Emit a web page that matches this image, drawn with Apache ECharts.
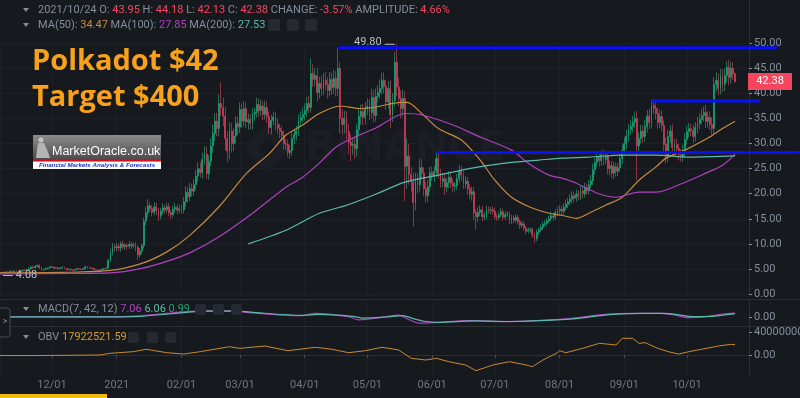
<!DOCTYPE html>
<html>
<head>
<meta charset="utf-8">
<script src="https://cdn.jsdelivr.net/npm/echarts@6/dist/echarts.min.js"></script>
<style>
  html, body { margin: 0; padding: 0; background: #161a1e; }
  #main { width: 800px; height: 398px; }
</style>
</head>
<body>
<div id="main"></div>
<script>
// DOT/USDT daily, 2020-11-06 .. 2021-10-24
const firstDay = [2020, 10, 6];
const firstOpen = 4.20;

const closes = [
  // Nov (from 6th)
  4.22,4.18,4.35,4.40,4.38,4.55,4.48,4.60,4.46,4.43, 4.58,4.76,4.68,4.84,5.02,5.38,5.22,5.52,5.72,5.30, 4.82,4.92,5.08,5.18,5.42,
  // Dec
  5.35,5.15,5.25,5.05,5.20,5.30,5.10,4.85,4.95,4.80, 4.75,4.90,5.05,4.95,4.90,5.05,5.40,5.25,5.20,5.10, 4.85,4.80,4.55,4.75,4.95,5.05,5.15,6.70,8.30,9.40, 9.20,
  // Jan
  9.50,9.20,10.00,9.40,9.70,9.50,9.90,9.60,9.90,9.30, 7.80,8.60,9.60,14.50,16.20,17.60,17.00,16.30,17.40,16.60, 15.60,16.50,17.20,16.80,17.40,16.20,15.80,16.90,17.30,16.70, 17.00,
  // Feb
  16.8,18.4,20.3,19.4,21.0,20.5,21.8,23.5,25.0,24.2, 26.8,27.9,24.0,26.5,29.5,32.0,34.5,33.0,38.0,37.2, 35.5,31.0,28.5,32.5,30.0,31.5,34.0,33.3,
  // Mar
  36.8,34.5,37.0,34.3,34.8,34.0,35.9,36.2,37.8,36.6, 37.5,35.8,37.2,35.4,33.2,34.6,35.3,33.8,33.0,32.4, 31.6,30.0,29.8,28.2,28.6,31.0,31.8,32.5,34.6,35.2, 35.8,
  // Apr
  36.6,38.0,37.2,44.0,42.8,43.6,40.2,42.0,41.0,42.6, 41.8,40.6,42.8,41.2,43.0,41.0,45.0,35.0,33.8,35.0, 32.4,30.2,29.6,29.8,29.0,32.8,35.4,36.4,35.2,37.0,
  // May
  37.4,36.2,39.2,35.6,39.4,40.2,41.0,42.6,41.4,38.3, 41.0,35.8,38.6,46.2,41.3,39.0,37.0,39.0,25.5,27.5, 23.8,22.4,18.2,22.6,21.8,25.2,24.1,21.0,19.6,21.4, 24.2,
  // Jun
  23.5,24.5,27.0,24.0,22.5,23.0,21.3,22.2,23.3,22.1, 21.5,21.6,23.0,24.5,23.7,22.0,22.5,21.0,19.9,20.4, 16.2,15.4,16.3,16.8,15.4,15.7,16.8,16.7,16.8,16.5,
  // Jul
  15.4,15.3,15.8,16.4,15.3,15.8,15.9,14.6,15.2,14.7, 15.3,14.4,13.7,14.0,13.2,12.5,12.8,12.9,11.8,11.0, 12.3,12.8,13.3,13.9,14.1,14.6,15.0,15.6,15.3,16.2, 16.6,
  // Aug
  16.9,16.5,17.3,17.9,18.4,18.9,19.6,19.1,19.9,19.5, 20.6,20.0,21.2,20.6,21.8,22.6,24.8,26.2,27.4,26.6, 27.8,26.8,27.4,25.0,25.6,24.1,25.4,24.5,25.2,27.0, 28.6,
  // Sep
  30.0,31.5,32.8,33.4,34.2,35.0,29.5,31.0,32.5,31.4, 33.4,35.5,34.2,37.6,37.0,36.0,34.2,35.4,33.6,29.8, 27.6,31.4,32.5,29.2,29.8,29.0,27.8,27.4,28.6,30.8,
  // Oct
  32.4,33.0,32.6,31.4,33.2,34.0,34.8,35.6,36.2,34.4, 35.2,33.8,33.0,41.8,42.6,41.0,43.4,41.8,43.6,45.2, 43.2,45.0,43.95,42.38
];

// wick length above the body / below the body
const upperWick = [
  .10,.12,.08,.10,.15,.12,.10,.14,.10,.12, .20,.15,.18,.20,.30,.22,.25,.20,.15,.20, .18,.15,.20,.15,.12,
  .15,.12,.15,.12,.18,.20,.12,.10,.15,.10, .12,.15,.18,.12,.10,.20,.25,.15,.12,.10, .10,.12,.10,.15,.18,.15,.20,.35,.70,.80, .60,
  .70,.60,.50,.60,.40,.50,.60,.50,.40,.50, .40,.60,.50,.80,1.2,1.4,.80,.70,.90,.80, .60,.70,.90,.60,.80,.70,.60,.70,.80,.60, .70,
  .8,1.0,1.2,1.0,1.2,1.0,1.1,1.2,1.3,1.2, 1.4,1.6,1.5,1.2,1.6,1.8,1.5,1.6,1.8,4.2, 2.0,1.8,1.5,1.8,1.6,1.5,1.4,1.5,
  1.4,1.2,1.5,1.3,1.2,1.0,1.2,1.0,1.4,1.2, 1.3,1.0,1.4,1.2,1.0,1.2,1.1,1.0,1.2,1.0, 1.1,1.0,.9,1.0,1.2,1.2,1.0,1.1,1.3,1.2, 1.4,
  1.4,1.3,1.5,3.0,1.8,1.5,1.6,1.4,1.6,1.5, 1.6,1.4,1.5,1.4,1.8,1.5,4.0,1.2,1.8,1.6, 1.4,1.5,1.6,1.4,1.5,1.2,1.6,1.4,1.5,1.3,
  1.6,1.4,1.8,1.5,1.6,1.4,1.8,1.5,1.6,1.4, 1.5,1.6,1.5,2.0,3.6,1.8,1.6,1.8,1.5,3.5, 2.5,1.5,1.8,1.6,1.5,1.8,1.6,1.2,1.3,1.4, 1.2,
  1.2,1.0,1.2,1.5,1.0,1.1,.9,1.0,1.2,1.0, .9,.8,1.0,1.3,1.0,.9,1.0,.8,.9,1.0, .9,.8,1.0,.9,.8,.7,.8,.7,.6,.7,
  .7,.6,.7,.8,.6,.7,.6,.5,.6,.5, .6,.5,.5,.6,.5,.4,.5,.4,.4,.5, .6,.5,.6,.5,.6,.5,.6,.8,.6,.7, .8,
  .8,.7,.8,.9,.8,1.0,.9,.8,.9,.8, 1.0,.9,1.0,.8,1.0,1.2,1.2,1.0,1.1,1.0, .9,1.0,1.1,.9,1.0,.9,1.0,.8,.9,1.0, 1.2,
  1.2,1.3,1.1,1.2,1.3,1.2,1.5,1.2,1.3,1.2, 1.3,1.2,1.4,1.1,1.2,1.3,1.2,1.4,1.2,1.0, 1.5,1.4,1.2,1.3,1.1,1.2,1.0,1.1,1.2,1.3,
  1.2,1.1,1.0,1.2,1.1,1.3,1.2,1.4,1.2,1.5, 1.3,1.2,1.4,1.5,1.6,1.4,1.5,1.3,1.4,1.2, 1.5,1.3,1.2,.23
];
const lowerWick = [
  .06,.10,.10,.12,.10,.15,.12,.10,.12,.10, .12,.15,.12,.15,.20,.18,.20,.15,.25,.30, .15,.15,.12,.15,.12,
  .15,.15,.12,.18,.12,.15,.15,.15,.10,.12, .15,.10,.12,.12,.15,.10,.15,.15,.12,.15, .15,.10,.15,.10,.12,.12,.15,.10,.30,.60, .80,
  .60,.70,.80,.50,.60,.70,.50,.60,.50,.80, 1.0,.60,.70,.50,.80,.90,.70,.80,.60,.90, 1.0,.70,.60,.80,.60,.70,.90,.60,.70,.80, .60,
  .7,.8,1.0,1.1,.9,1.0,.9,1.0,1.2,1.0, 1.2,1.0,1.0,1.2,1.0,1.4,1.5,1.6,1.5,1.8, 2.0,2.4,2.2,1.6,1.8,1.5,1.4,1.6,
  1.2,1.4,1.1,1.3,1.5,1.2,1.2,1.4,1.0,1.3, 1.1,1.2,1.0,1.3,1.2,1.4,1.0,1.2,1.1,1.3, 1.0,1.2,1.1,.9,1.2,1.0,1.1,1.2,1.0,1.2, 1.0,
  1.2,1.3,1.1,1.0,1.5,1.4,1.8,1.2,1.5,1.3, 1.2,1.6,1.2,1.5,1.3,1.6,1.5,3.0,2.0,1.8, 1.6,2.2,3.1,1.8,2.0,1.5,1.4,1.6,1.5,1.4,
  1.3,1.5,1.2,1.4,1.2,1.1,1.3,1.2,1.4,1.6, 1.3,2.8,1.5,1.2,1.8,1.6,2.0,1.6,7.0,4.5, 2.0,2.0,4.8,1.5,1.6,1.4,1.2,1.5,1.4,1.2, 1.0,
  1.0,1.2,1.1,1.0,1.3,1.2,1.5,1.0,1.1,1.0, 1.2,1.0,.9,.8,1.1,1.0,.9,1.2,1.0,1.3, 1.5,2.6,1.0,.8,.9,.7,.8,.7,.8,.7,
  .6,.7,.6,.5,.7,.6,.5,.7,.6,.6, .5,.6,.7,.5,.6,.6,.4,.5,.6,.8, .5,.6,.5,.6,.5,.6,.5,.6,.7,.5, .6,
  .7,.8,.7,.6,.8,.7,.8,.9,.7,.8, .7,.9,.8,.9,.7,.8,.9,1.0,.9,1.2, 1.0,1.1,1.0,1.2,1.3,1.0,1.2,1.1,1.0,.9, 1.0,
  1.0,1.2,1.1,1.0,1.2,1.1,6.8,1.2,1.0,1.3, 1.1,1.2,1.3,1.2,1.1,1.2,1.3,1.1,1.2,1.4, 1.6,1.3,1.2,1.4,1.2,1.1,1.2,1.0,1.1,1.2,
  1.0,1.2,1.1,1.3,1.0,1.2,1.1,1.0,1.2,1.3, 1.2,1.1,1.2,1.0,1.4,1.3,1.2,1.5,1.3,1.4, 1.6,1.2,1.3,.25
];

// moving averages as drawn on the chart
const ma50 = [
  ['2020-11-06',4.2],['2020-12-05',4.3],['2020-12-29',4.7],['2021-01-13',6.1],['2021-01-25',8.4],
  ['2021-02-05',11.7],['2021-02-19',17.4],['2021-03-04',24.0],['2021-03-15',28.0],['2021-03-23',31.7],
  ['2021-03-31',33.7],['2021-04-08',36.0],['2021-04-18',37.5],['2021-04-27',37.0],['2021-05-05',37.3],
  ['2021-05-17',38.2],['2021-05-20',38.2],['2021-05-27',36.0],['2021-06-04',33.0],['2021-06-15',30.7],
  ['2021-06-24',26.7],['2021-07-01',22.7],['2021-07-09',19.3],['2021-07-18',17.3],['2021-07-27',16.1],
  ['2021-08-02',15.7],['2021-08-09',15.1],['2021-08-15',16.1],['2021-08-23',17.7],['2021-08-31',19.3],
  ['2021-09-08',22.7],['2021-09-16',25.3],['2021-09-21',27.1],['2021-09-30',28.7],['2021-10-11',31.1],
  ['2021-10-18',33.0],['2021-10-24',34.47]
];
const ma100 = [
  ['2020-11-06',4.0],['2020-12-10',4.1],['2020-12-29',4.2],['2021-01-13',5.1],['2021-01-25',6.5],
  ['2021-02-05',8.2],['2021-02-19',11.4],['2021-03-07',16.1],['2021-03-23',21.3],['2021-03-31',23.3],
  ['2021-04-08',26.1],['2021-04-16',29.3],['2021-04-24',31.1],['2021-05-05',33.1],['2021-05-19',36.0],
  ['2021-05-27',35.7],['2021-06-11',33.7],['2021-06-24',31.3],['2021-07-09',28.7],['2021-07-17',26.1],
  ['2021-07-27',23.7],['2021-08-02',23.1],['2021-08-09',22.1],['2021-08-19',20.1],['2021-08-28',19.3],
  ['2021-09-08',20.3],['2021-09-16',20.3],['2021-09-29',22.1],['2021-10-10',24.1],['2021-10-18',25.7],
  ['2021-10-24',27.85]
];
const ma200 = [
  ['2021-03-05',10.0],['2021-03-23',12.7],['2021-04-08',16.1],['2021-04-21',17.7],['2021-05-05',19.9],
  ['2021-05-19',22.3],['2021-06-04',23.7],['2021-06-20',25.1],['2021-07-06',26.1],['2021-07-22',26.7],
  ['2021-08-02',27.1],['2021-08-15',27.3],['2021-08-31',27.7],['2021-09-16',27.7],['2021-10-02',27.3],
  ['2021-10-24',27.53]
];

// MACD(7,42,12) lines
const macdDif = [
  ['2020-11-06',0.3],['2020-12-29',0.3],['2021-01-10',1.5],['2021-01-25',6.5],['2021-02-10',11],
  ['2021-02-26',11],['2021-03-04',8.2],['2021-03-30',2.3],['2021-04-06',6.5],['2021-04-22',0.5],
  ['2021-04-27',-5],['2021-05-08',-0.5],['2021-05-16',3.5],['2021-05-21',-5],['2021-05-26',-11],
  ['2021-06-02',-10],['2021-06-19',-6.5],['2021-07-05',-8.2],['2021-07-21',-6.5],['2021-08-07',-2.3],
  ['2021-08-23',4.7],['2021-09-08',6.5],['2021-09-18',6.5],['2021-09-25',3.5],['2021-10-02',-1.2],
  ['2021-10-10',0.5],['2021-10-18',5.3],['2021-10-24',7.06]
];
const macdDea = [
  ['2020-11-06',0.2],['2020-12-29',0.2],['2021-01-12',1.0],['2021-01-27',5.8],['2021-02-12',10.5],
  ['2021-02-28',10.6],['2021-03-06',8.6],['2021-03-31',3.0],['2021-04-08',4.5],['2021-04-24',1.2],
  ['2021-04-29',-2],['2021-05-10',0],['2021-05-18',2.5],['2021-05-23',-3],['2021-05-28',-7.5],
  ['2021-06-04',-9.5],['2021-06-21',-6.8],['2021-07-07',-8],['2021-07-23',-6.5],['2021-08-09',-2.8],
  ['2021-08-25',4.2],['2021-09-10',6.3],['2021-09-20',6.3],['2021-09-27',3.8],['2021-10-04',0.5],
  ['2021-10-12',1.0],['2021-10-19',3.8],['2021-10-24',6.06]
];
const macdHist = 0.99;

// OBV, millions
const obvM = [
  ['2020-11-06',-1],['2020-11-22',-1],['2020-12-24',0],['2020-12-29',3],['2021-01-09',5.8],
  ['2021-01-15',10],['2021-01-25',4],['2021-02-02',1.7],['2021-02-10',5.8],['2021-02-24',14.4],
  ['2021-03-01',11.6],['2021-03-13',15.6],['2021-03-24',7.5],['2021-04-06',13.4],['2021-04-14',10],
  ['2021-04-22',4],['2021-04-30',7.5],['2021-05-08',13.4],['2021-05-16',8.7],['2021-05-22',-5.8],
  ['2021-05-29',-8.7],['2021-06-03',-5.8],['2021-06-09',-11.6],['2021-06-17',-17.4],['2021-06-22',-27.3],
  ['2021-06-30',-17.4],['2021-07-08',-11.6],['2021-07-16',-17.4],['2021-07-19',-20.3],['2021-07-24',-8.7],
  ['2021-07-31',4],['2021-08-01',7.5],['2021-08-04',4],['2021-08-12',11.6],['2021-08-20',20.3],
  ['2021-08-28',17.4],['2021-08-31',29],['2021-09-05',29],['2021-09-08',20.3],['2021-09-11',21.4],
  ['2021-09-17',11.6],['2021-09-22',5.8],['2021-09-27',1.7],['2021-10-02',5.8],['2021-10-08',10],
  ['2021-10-13',13.4],['2021-10-16',15.6],['2021-10-22',18.6],['2021-10-24',17.92252159]
];

// hand-drawn resistance lines
const levels = [
  { from: '2021-04-17', to: '2021-11-13', value: 49.1 },
  { from: '2021-09-14', to: '2021-11-05', value: 38.5 },
  { from: '2021-06-03', to: '2021-11-24', value: 28.2 }
];

const BG = '#161a1e', GRAY = '#848e9c', RED = '#f6465d';
const UP = '#1bb17c', DOWN = '#e0435f';
const C50 = '#c68a3e', C100 = '#b040c2', C200 = '#5cb8ad', COBV = '#c98a32';

const t = s => { const [y, m, d] = s.split('-').map(Number); return new Date(y, m - 1, d).getTime(); };
const pts = arr => arr.map(p => [t(p[0]), p[1]]);

const candles = [];
let prev = firstOpen;
closes.forEach((c, i) => {
  const day = new Date(firstDay[0], firstDay[1], firstDay[2] + i).getTime();
  const o = prev;
  candles.push([day, o, c, Math.min(o, c) - lowerWick[i], Math.max(o, c) + upperWick[i]]);
  prev = c;
});

const xMin = new Date(2020, 10, 6, 3).getTime();
const xMax = new Date(2021, 9, 30, 16).getTime();
const DAY = 86400000;
const pad = n => (n < 10 ? '0' : '') + n;
const fmtDate = v => {
  const d = new Date(v);
  return (d.getMonth() === 0 && d.getDate() === 1) ? String(d.getFullYear()) : pad(d.getMonth() + 1) + '/' + pad(d.getDate());
};

const xAxis = (gi, show) => ({
  type: 'time', gridIndex: gi, min: xMin, max: xMax,
  splitNumber: 12, minInterval: 28 * DAY, maxInterval: 31 * DAY,
  axisLine: { show: show, lineStyle: { color: '#2b2f36' } },
  axisTick: { show: show, length: 3, lineStyle: { color: '#474d57' } },
  axisLabel: { show: show, color: '#6f7785', fontSize: 11, fontFamily: 'Roboto', margin: 5, formatter: fmtDate },
  splitLine: { show: true, lineStyle: { color: '#1d2127' } }
});
const yBase = {
  type: 'value', position: 'right', scale: false,
  axisLine: { show: true, lineStyle: { color: '#2b2f36' } },
  axisTick: { show: true, length: 3, lineStyle: { color: GRAY } },
  splitLine: { show: false }
};

const chart = echarts.init(document.getElementById('main'));
const option = {
  backgroundColor: BG,
  animation: false,
  grid: [
    { left: 0, right: 51, top: 43.3, height: 250.7, outerBoundsMode: 'none' },
    { left: 0, right: 51, top: 299, height: 27, outerBoundsMode: 'none' },
    { left: 0, right: 51, top: 326, height: 49, outerBoundsMode: 'none' }
  ],
  xAxis: [xAxis(0, false), xAxis(1, false), xAxis(2, true)],
  yAxis: [
    Object.assign({}, yBase, {
      gridIndex: 0, min: 0, max: 50, interval: 5,
      axisLabel: { color: GRAY, fontSize: 11, fontFamily: 'Roboto', margin: 5, formatter: v => v.toFixed(2) },
      splitLine: { show: true, lineStyle: { color: '#1d2127' } }
    }),
    Object.assign({}, yBase, {
      gridIndex: 1, min: -16, max: 32,
      axisTick: { show: true, length: 3, customValues: [0], lineStyle: { color: GRAY } },
      axisLabel: { customValues: [0], color: GRAY, fontSize: 11, fontFamily: 'Roboto', margin: 5, formatter: v => v.toFixed(2) }
    }),
    Object.assign({}, yBase, {
      gridIndex: 2, min: -34782609, max: 50434783,
      axisTick: { show: true, length: 3, customValues: [0, 40000000], lineStyle: { color: GRAY } },
      axisLabel: { customValues: [0, 40000000], color: GRAY, fontSize: 11, fontFamily: 'Roboto', margin: 5,
        formatter: v => (v === 0 ? '0.00' : String(v)) }
    })
  ],
  series: [
    {
      type: 'candlestick', xAxisIndex: 0, yAxisIndex: 0, data: candles, barWidth: 1.4,
      itemStyle: { color: UP, color0: DOWN, borderColor: UP, borderColor0: DOWN, borderColorDoji: UP, borderWidth: 0.6 }
    },
    { type: 'line', xAxisIndex: 0, yAxisIndex: 0, data: pts(ma50), smooth: 0.3, showSymbol: false, lineStyle: { color: C50, width: 1.2 } },
    { type: 'line', xAxisIndex: 0, yAxisIndex: 0, data: pts(ma100), smooth: 0.3, showSymbol: false, lineStyle: { color: C100, width: 1.2 } },
    { type: 'line', xAxisIndex: 0, yAxisIndex: 0, data: pts(ma200), smooth: 0.3, showSymbol: false, lineStyle: { color: C200, width: 1.2 } },
    { type: 'line', xAxisIndex: 1, yAxisIndex: 1, data: pts(macdDif), smooth: 0.3, showSymbol: false, lineStyle: { color: C100, width: 1.2 } },
    { type: 'line', xAxisIndex: 1, yAxisIndex: 1, data: pts(macdDea), smooth: 0.3, showSymbol: false, lineStyle: { color: C200, width: 1.2 } },
    { type: 'line', xAxisIndex: 2, yAxisIndex: 2, data: obvM.map(p => [t(p[0]), p[1] * 1e6]), showSymbol: false, lineStyle: { color: COBV, width: 1 } }
  ]
};
chart.setOption(option);

// ---- overlays ----
const px = (ts, v) => chart.convertToPixel({ xAxisIndex: 0, yAxisIndex: 0 }, [ts, v]);
const last = candles[candles.length - 1];
const lastMA = a => a[a.length - 1][1].toFixed(2);
const f2 = v => v.toFixed(2);
const font = (size, weight, fam) => (weight ? weight + ' ' : '') + size + 'px ' + (fam || 'Roboto');
const tri = (x, y) => ({ type: 'polygon', shape: { points: [[x - 3, y - 2], [x + 3, y - 2], [x, y + 2]] }, style: { fill: GRAY }, z: 20 });
const icons = (xs, y, s) => xs.map(x => ({ type: 'rect', shape: { x: x, y: y, width: s, height: s, r: 2 }, style: { fill: '#252a31' }, z: 20 }));
const hf = font(11);
const txt = (x, y, text, rich) => ({
  type: 'text', x: x, y: y, z: 20,
  style: { text: text, rich: rich, font: hf, fill: GRAY, verticalAlign: 'middle' }
});

const g = [];
// watermark
g.push({ type: 'polygon', shape: { points: [[267, 124], [291, 148], [267, 172], [243, 148]] }, style: { fill: '#1b1f25' }, z: 1 });
g.push({ type: 'polygon', shape: { points: [[267, 138], [277, 148], [267, 158], [257, 148]] }, style: { fill: BG }, z: 1 });
g.push({ type: 'text', x: 305, y: 150, z: 1, style: { text: 'BINANCE', font: font(40, 'bold', 'DejaVu Sans'), fill: '#1b1f25', verticalAlign: 'middle' } });

// header lines
const change = ((last[2] - last[1]) / last[1] * 100).toFixed(2);
const ampl = ((last[4] - last[3]) / last[1] * 100).toFixed(2);
g.push(tri(26, 10));
g.push(txt(38, 10,
  '{g|2021/10/24 O: }{r|' + f2(last[1]) + '}{g| H: }{r|' + f2(last[4]) + '}{g| L: }{r|' + f2(last[3]) +
  '}{g| C: }{r|' + f2(last[2]) + '}{g| CHANGE: }{r|' + change + '%}{g| AMPLITUDE: }{r|' + ampl + '%}',
  { g: { fill: GRAY, font: hf }, r: { fill: RED, font: hf } }));
g.push(tri(26, 25));
g.push(txt(38, 25,
  '{g|MA(50): }{a|' + lastMA(ma50) + '}{g| MA(100): }{b|' + lastMA(ma100) + '}{g| MA(200): }{c|' + lastMA(ma200) + '}',
  { g: { fill: GRAY, font: hf }, a: { fill: C50, font: hf }, b: { fill: C100, font: hf }, c: { fill: C200, font: hf } }));
icons([268, 287, 305], 19, 12).forEach(e => g.push(e));

// MACD / OBV legends
g.push(tri(26, 309));
g.push(txt(38, 309,
  '{g|MACD(7, 42, 12) }{a|' + lastMA(macdDif) + '} {b|' + lastMA(macdDea) + '} {c|' + macdHist.toFixed(2) + '}',
  { g: { fill: GRAY, font: hf }, a: { fill: C100, font: hf }, b: { fill: C200, font: hf }, c: { fill: '#1f9e72', font: hf } }));
icons([195, 213, 231], 304, 11).forEach(e => g.push(e));
g.push(tri(26, 337));
g.push(txt(38, 337, '{g|OBV }{a|' + (obvM[obvM.length - 1][1] * 1e6).toFixed(2) + '}',
  { g: { fill: GRAY, font: hf }, a: { fill: '#d49a3a', font: hf } }));
icons([128, 147, 165], 332, 11).forEach(e => g.push(e));

// pane separators and side handle
[299.5, 326.5].forEach(y => g.push({ type: 'line', shape: { x1: 0, y1: y, x2: 800, y2: y }, style: { stroke: '#2b2f36', lineWidth: 1 }, z: 5 }));
g.push({ type: 'line', shape: { x1: 749.5, y1: 0, x2: 749.5, y2: 44 }, style: { stroke: '#2b2f36', lineWidth: 1 }, z: 5 });
g.push({ type: 'rect', shape: { x: -4, y: 308, width: 14, height: 29, r: 3 }, style: { fill: BG, stroke: '#474d57', lineWidth: 1 }, z: 20 });
g.push({ type: 'text', x: 5, y: 322, z: 21, style: { text: '>', font: font(9), fill: GRAY, align: 'center', verticalAlign: 'middle' } });
g.push({ type: 'rect', shape: { x: 0, y: 394, width: 107, height: 4 }, style: { fill: '#f0b90b' }, z: 20 });

// titles
g.push({ type: 'text', x: 32, y: 62, z: 20, style: { text: 'Polkadot $42', font: font(29, 'bold', 'Open Sans'), fill: '#f8a11c', verticalAlign: 'middle' } });
g.push({ type: 'text', x: 32, y: 98, z: 20, style: { text: 'Target $400', font: font(29, 'bold', 'Open Sans'), fill: '#f8a11c', verticalAlign: 'middle' } });

// MarketOracle logo
g.push({ type: 'rect', shape: { x: 33, y: 135, width: 128, height: 25 }, z: 20,
  style: { fill: new echarts.graphic.LinearGradient(0, 0, 0, 1, [{ offset: 0, color: '#8c8c8c' }, { offset: 1, color: '#4a4a4a' }]) } });
g.push({ type: 'circle', shape: { cx: 41, cy: 140, r: 2.5 }, style: { fill: '#c4c4c4' }, z: 21 });
g.push({ type: 'polygon', shape: { points: [[38, 143], [44, 143], [48, 152], [50, 158], [36, 158], [37, 150]] }, style: { fill: '#b4b4b4' }, z: 21 });
g.push({ type: 'text', x: 52, y: 152, z: 21, style: { text: 'MarketOracle.co.uk', font: font(12.5, '', 'Liberation Sans'), fill: '#ffffff', verticalAlign: 'middle' } });
g.push({ type: 'rect', shape: { x: 33, y: 159.5, width: 128, height: 2 }, style: { fill: '#d0101e' }, z: 20 });
g.push({ type: 'rect', shape: { x: 33, y: 161.5, width: 128, height: 7.5 }, style: { fill: '#ffffff' }, z: 20 });
g.push({ type: 'text', x: 97, y: 165.5, z: 21, style: { text: 'Financial Markets Analysis & Forecasts', font: 'italic bold 6.2px Liberation Sans', fill: '#1b34c8', align: 'center', verticalAlign: 'middle' } });

// resistance lines
levels.forEach(l => {
  const a = px(t(l.from), l.value), b = px(t(l.to), l.value);
  g.push({ type: 'line', shape: { x1: a[0], y1: a[1], x2: b[0], y2: b[1] }, style: { stroke: '#0a10f5', lineWidth: 3 }, z: 15 });
});

// last price tag
const pLast = px(last[0], last[2]);
g.push({ type: 'rect', shape: { x: 748, y: pLast[1] - 8.5, width: 44, height: 17 }, style: { fill: RED }, z: 20 });
g.push({ type: 'text', x: 770, y: pLast[1], z: 21, style: { text: f2(last[2]), font: font(11), fill: '#ffffff', align: 'center', verticalAlign: 'middle' } });

// high / low markers
let hiI = 0, loI = 0;
candles.forEach((c, i) => { if (c[4] > candles[hiI][4]) hiI = i; if (c[3] < candles[loI][3]) loI = i; });
const pHi = px(candles[hiI][0], candles[hiI][4]);
const pLo = px(candles[loI][0], candles[loI][3]);
g.push({ type: 'line', shape: { x1: pHi[0] - 12, y1: pHi[1], x2: pHi[0] - 2, y2: pHi[1] }, style: { stroke: '#b7bdc6', lineWidth: 1 }, z: 20 });
g.push({ type: 'text', x: pHi[0] - 15, y: pHi[1] - 2, z: 20, style: { text: f2(candles[hiI][4]), font: font(11), fill: '#b7bdc6', align: 'right', verticalAlign: 'middle' } });
g.push({ type: 'line', shape: { x1: pLo[0] + 1, y1: pLo[1] + 2, x2: pLo[0] + 11, y2: pLo[1] + 2 }, style: { stroke: '#b7bdc6', lineWidth: 1 }, z: 20 });
g.push({ type: 'text', x: pLo[0] + 14, y: pLo[1] + 2, z: 20, style: { text: f2(candles[loI][3]), font: font(11), fill: '#b7bdc6', verticalAlign: 'middle' } });

chart.setOption({ graphic: { elements: g } });
</script>
</body>
</html>
